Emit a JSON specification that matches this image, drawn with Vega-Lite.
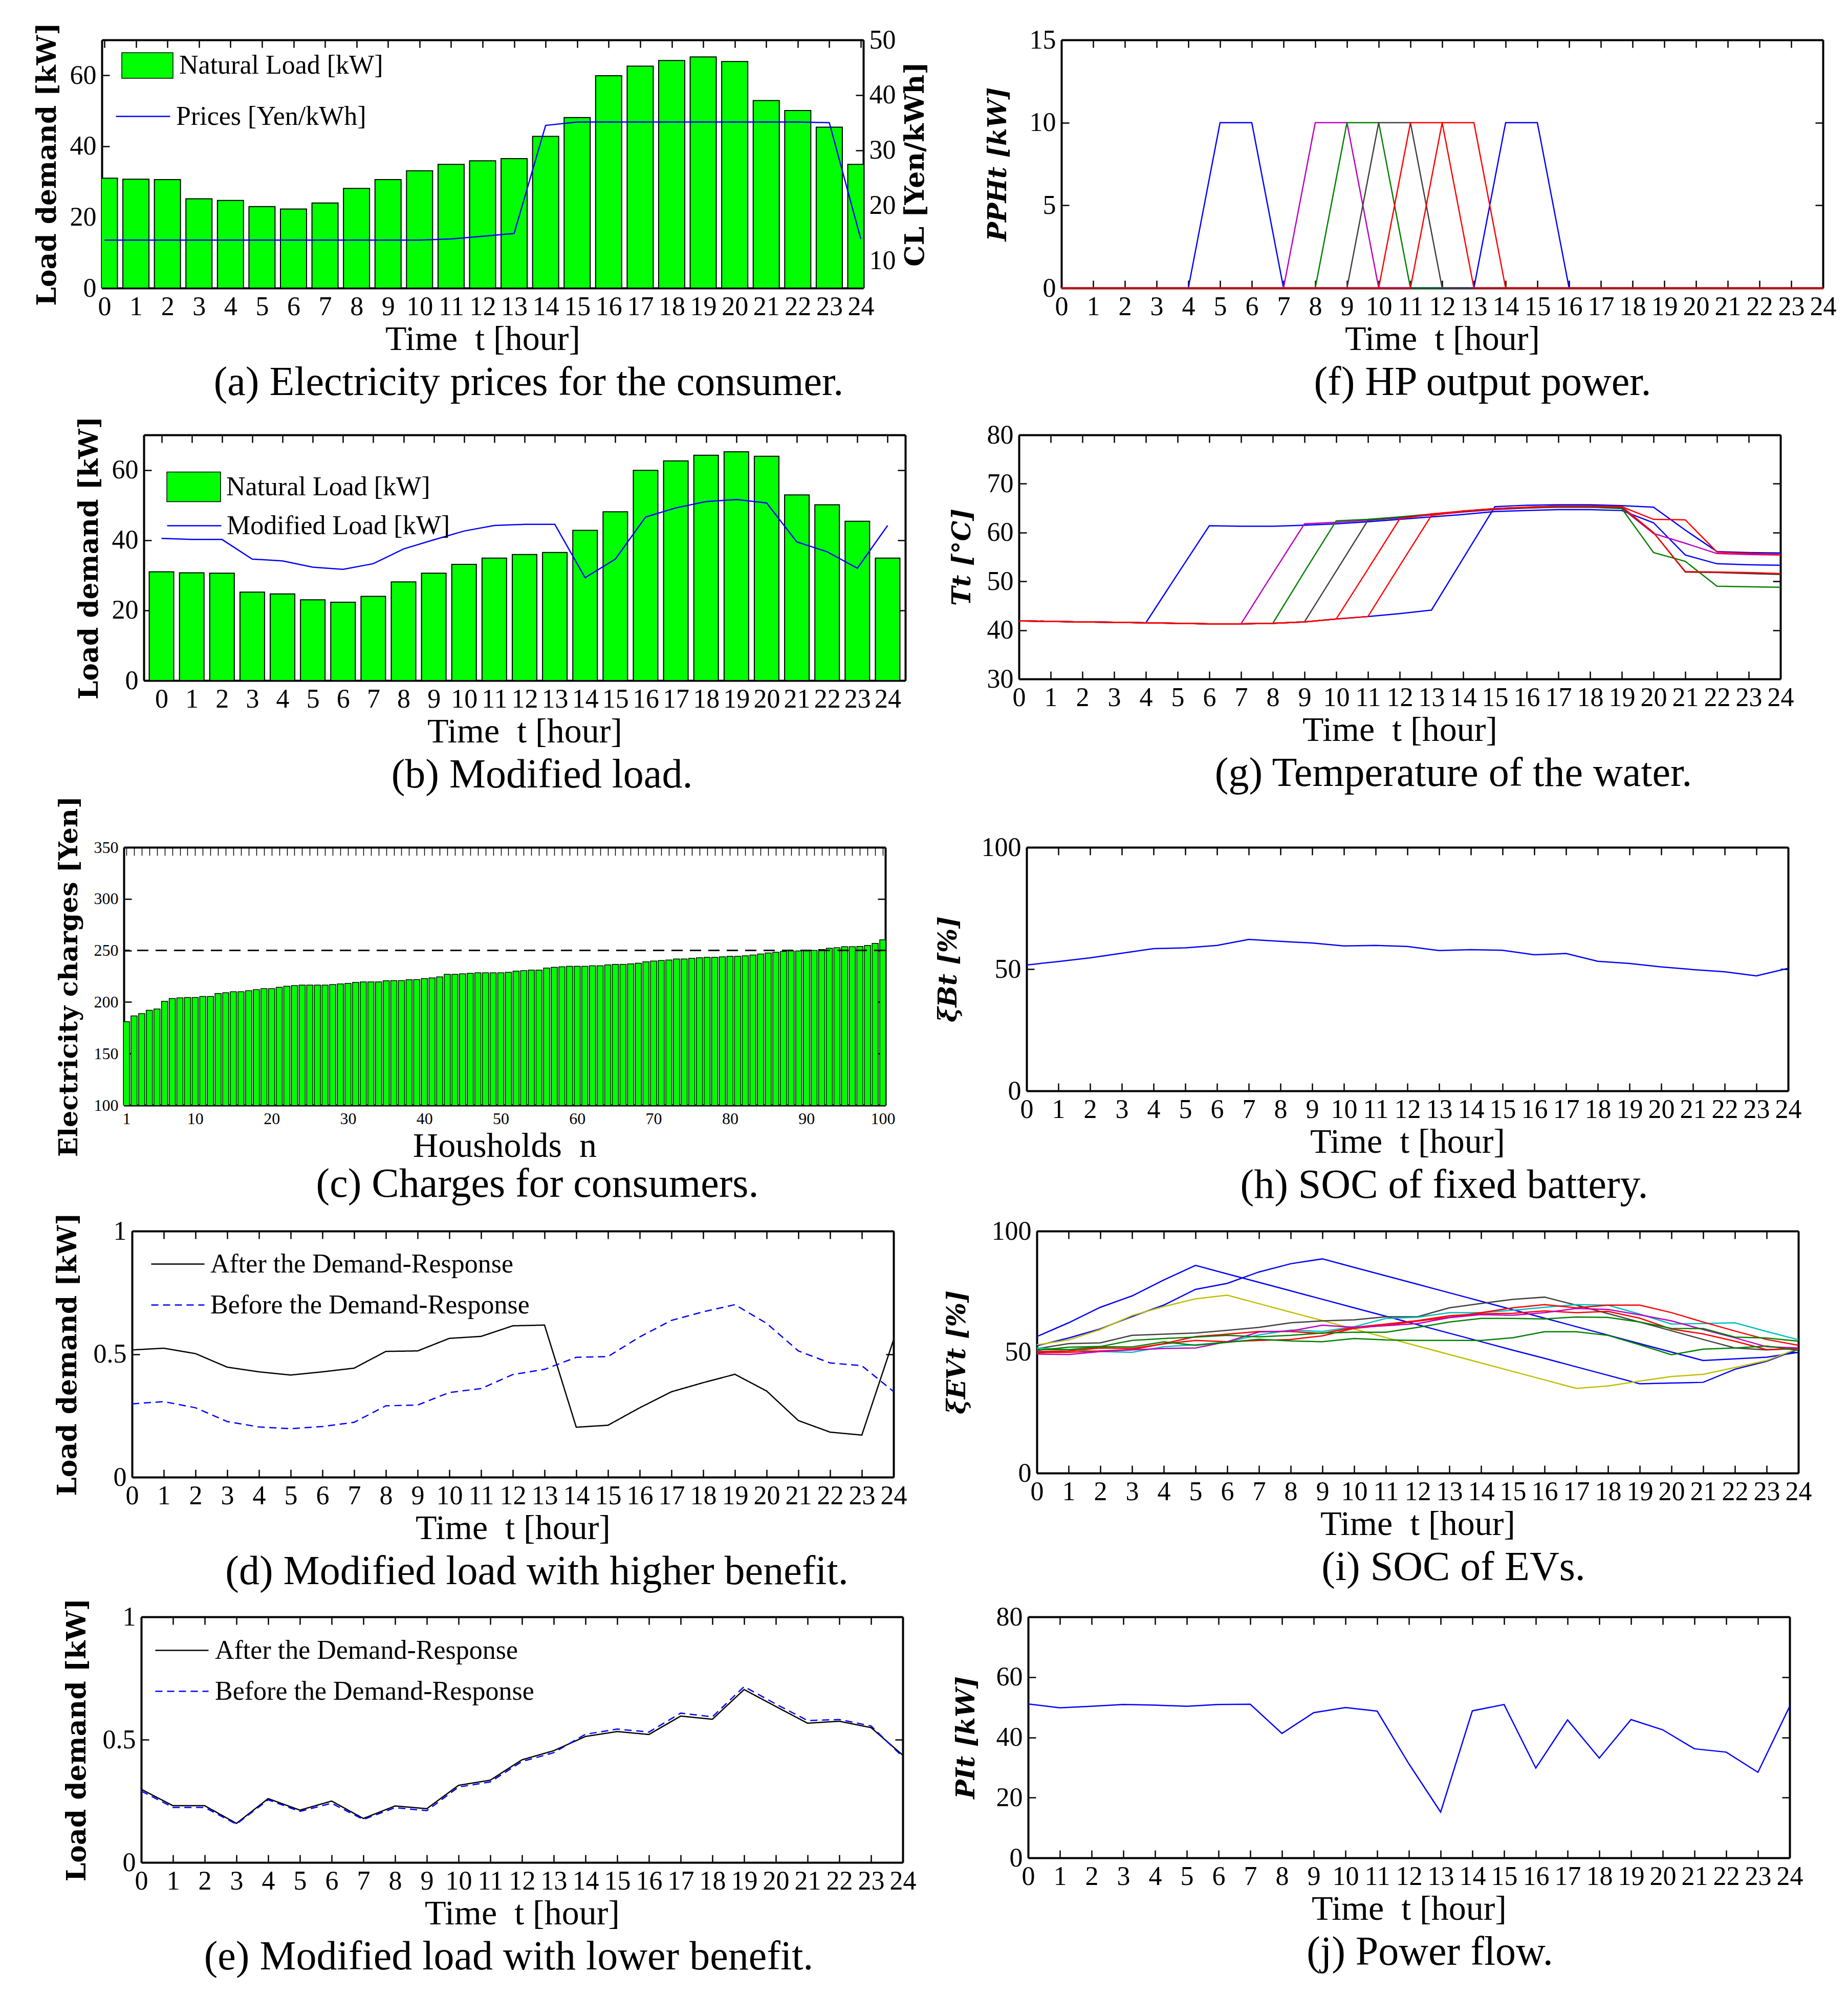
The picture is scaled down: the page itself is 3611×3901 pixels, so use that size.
{
"$schema":"https://vega.github.io/schema/vega-lite/v6.json",
"padding":0,
"background":"white",
"datasets":{
"load":[
{"t":0,"natural":31.0,"price":13.7,"modified":40.5},
{"t":1,"natural":30.7,"price":13.7,"modified":40.2},
{"t":2,"natural":30.6,"price":13.7,"modified":40.2},
{"t":3,"natural":25.2,"price":13.7,"modified":34.6},
{"t":4,"natural":24.7,"price":13.7,"modified":34.1},
{"t":5,"natural":23.0,"price":13.7,"modified":32.3},
{"t":6,"natural":22.3,"price":13.7,"modified":31.7},
{"t":7,"natural":24.0,"price":13.7,"modified":33.3},
{"t":8,"natural":28.1,"price":13.7,"modified":37.5},
{"t":9,"natural":30.6,"price":13.7,"modified":40.1},
{"t":10,"natural":33.1,"price":13.7,"modified":42.6},
{"t":11,"natural":34.9,"price":13.9,"modified":44.2},
{"t":12,"natural":35.9,"price":14.4,"modified":44.5},
{"t":13,"natural":36.5,"price":14.9,"modified":44.5},
{"t":14,"natural":42.8,"price":34.5,"modified":29.3},
{"t":15,"natural":48.1,"price":35.1,"modified":34.6},
{"t":16,"natural":59.9,"price":35.1,"modified":46.6},
{"t":17,"natural":62.6,"price":35.1,"modified":49.2},
{"t":18,"natural":64.2,"price":35.1,"modified":51.0},
{"t":19,"natural":65.2,"price":35.1,"modified":51.6},
{"t":20,"natural":63.9,"price":35.1,"modified":50.6},
{"t":21,"natural":52.9,"price":35.1,"modified":39.5},
{"t":22,"natural":50.1,"price":35.1,"modified":36.7},
{"t":23,"natural":45.4,"price":35.0,"modified":32.0},
{"t":24,"natural":34.9,"price":13.9,"modified":44.2}],
"hp":[
{"t":0,"s1":0,"s2":0,"s3":0,"s4":0,"s5":0,"s6":0,"s7":0},
{"t":1,"s1":0,"s2":0,"s3":0,"s4":0,"s5":0,"s6":0,"s7":0},
{"t":2,"s1":0,"s2":0,"s3":0,"s4":0,"s5":0,"s6":0,"s7":0},
{"t":3,"s1":0,"s2":0,"s3":0,"s4":0,"s5":0,"s6":0,"s7":0},
{"t":4,"s1":0,"s2":0,"s3":0,"s4":0,"s5":0,"s6":0,"s7":0},
{"t":5,"s1":10,"s2":0,"s3":0,"s4":0,"s5":0,"s6":0,"s7":0},
{"t":6,"s1":10,"s2":0,"s3":0,"s4":0,"s5":0,"s6":0,"s7":0},
{"t":7,"s1":0,"s2":0,"s3":0,"s4":0,"s5":0,"s6":0,"s7":0},
{"t":8,"s1":0,"s2":10,"s3":0,"s4":0,"s5":0,"s6":0,"s7":0},
{"t":9,"s1":0,"s2":10,"s3":10,"s4":0,"s5":0,"s6":0,"s7":0},
{"t":10,"s1":0,"s2":0,"s3":10,"s4":10,"s5":0,"s6":0,"s7":0},
{"t":11,"s1":0,"s2":0,"s3":0,"s4":10,"s5":10,"s6":0,"s7":0},
{"t":12,"s1":0,"s2":0,"s3":0,"s4":0,"s5":10,"s6":10,"s7":0},
{"t":13,"s1":0,"s2":0,"s3":0,"s4":0,"s5":0,"s6":10,"s7":0},
{"t":14,"s1":0,"s2":0,"s3":0,"s4":0,"s5":0,"s6":0,"s7":10},
{"t":15,"s1":0,"s2":0,"s3":0,"s4":0,"s5":0,"s6":0,"s7":10},
{"t":16,"s1":0,"s2":0,"s3":0,"s4":0,"s5":0,"s6":0,"s7":0},
{"t":17,"s1":0,"s2":0,"s3":0,"s4":0,"s5":0,"s6":0,"s7":0},
{"t":18,"s1":0,"s2":0,"s3":0,"s4":0,"s5":0,"s6":0,"s7":0},
{"t":19,"s1":0,"s2":0,"s3":0,"s4":0,"s5":0,"s6":0,"s7":0},
{"t":20,"s1":0,"s2":0,"s3":0,"s4":0,"s5":0,"s6":0,"s7":0},
{"t":21,"s1":0,"s2":0,"s3":0,"s4":0,"s5":0,"s6":0,"s7":0},
{"t":22,"s1":0,"s2":0,"s3":0,"s4":0,"s5":0,"s6":0,"s7":0},
{"t":23,"s1":0,"s2":0,"s3":0,"s4":0,"s5":0,"s6":0,"s7":0},
{"t":24,"s1":0,"s2":0,"s3":0,"s4":0,"s5":0,"s6":0,"s7":0}],
"temp":[
{"t":0,"s1":41.9,"s2":41.9,"s3":41.9,"s4":41.9,"s5":41.9,"s6":41.9,"s7":41.9},
{"t":1,"s1":41.8,"s2":41.8,"s3":41.8,"s4":41.8,"s5":41.8,"s6":41.8,"s7":41.8},
{"t":2,"s1":41.7,"s2":41.7,"s3":41.7,"s4":41.7,"s5":41.7,"s6":41.7,"s7":41.7},
{"t":3,"s1":41.6,"s2":41.6,"s3":41.6,"s4":41.6,"s5":41.6,"s6":41.6,"s7":41.6},
{"t":4,"s1":41.5,"s2":41.5,"s3":41.5,"s4":41.5,"s5":41.5,"s6":41.5,"s7":41.5},
{"t":5,"s1":51.5,"s2":41.4,"s3":41.4,"s4":41.4,"s5":41.4,"s6":41.4,"s7":41.4},
{"t":6,"s1":61.4,"s2":41.3,"s3":41.3,"s4":41.3,"s5":41.3,"s6":41.3,"s7":41.3},
{"t":7,"s1":61.3,"s2":41.3,"s3":41.3,"s4":41.3,"s5":41.3,"s6":41.3,"s7":41.3},
{"t":8,"s1":61.3,"s2":51.6,"s3":41.4,"s4":41.4,"s5":41.4,"s6":41.4,"s7":41.4},
{"t":9,"s1":61.5,"s2":61.8,"s3":52.0,"s4":41.7,"s5":41.7,"s6":41.7,"s7":41.7},
{"t":10,"s1":61.8,"s2":62.1,"s3":62.4,"s4":52.1,"s5":42.3,"s6":42.3,"s7":42.3},
{"t":11,"s1":62.2,"s2":62.5,"s3":62.7,"s4":62.5,"s5":52.5,"s6":42.8,"s7":42.8},
{"t":12,"s1":62.7,"s2":63.0,"s3":63.2,"s4":63.1,"s5":62.8,"s6":53.2,"s7":43.4},
{"t":13,"s1":63.2,"s2":63.6,"s3":63.8,"s4":63.7,"s5":63.8,"s6":63.5,"s7":44.1},
{"t":14,"s1":63.7,"s2":64.2,"s3":64.3,"s4":64.3,"s5":64.4,"s6":64.4,"s7":54.7},
{"t":15,"s1":64.3,"s2":64.7,"s3":64.8,"s4":64.8,"s5":64.9,"s6":64.9,"s7":65.3},
{"t":16,"s1":64.5,"s2":65.0,"s3":65.1,"s4":65.1,"s5":65.2,"s6":65.2,"s7":65.6},
{"t":17,"s1":64.7,"s2":65.2,"s3":65.2,"s4":65.3,"s5":65.4,"s6":65.4,"s7":65.7},
{"t":18,"s1":64.7,"s2":65.2,"s3":65.2,"s4":65.3,"s5":65.4,"s6":65.4,"s7":65.7},
{"t":19,"s1":64.5,"s2":65.0,"s3":64.9,"s4":65.1,"s5":65.3,"s6":65.3,"s7":65.5},
{"t":20,"s1":62.0,"s2":59.8,"s3":55.9,"s4":60.0,"s5":62.7,"s6":60.0,"s7":65.2},
{"t":21,"s1":55.4,"s2":57.8,"s3":54.1,"s4":51.9,"s5":62.6,"s6":52.0,"s7":60.5},
{"t":22,"s1":53.6,"s2":55.7,"s3":49.0,"s4":51.8,"s5":56.0,"s6":51.9,"s7":56.1},
{"t":23,"s1":53.4,"s2":55.5,"s3":48.9,"s4":51.6,"s5":55.7,"s6":51.8,"s7":55.9},
{"t":24,"s1":53.3,"s2":55.4,"s3":48.8,"s4":51.4,"s5":55.5,"s6":51.6,"s7":55.8}],
"bill":[
{"n":1,"charge":181},{"n":2,"charge":186.5},{"n":3,"charge":188.8},{"n":4,"charge":192},{"n":5,"charge":193.3},{"n":6,"charge":200.7},{"n":7,"charge":203.4},{"n":8,"charge":204},{"n":9,"charge":204.4},{"n":10,"charge":204.4},
{"n":11,"charge":205.4},{"n":12,"charge":205.4},{"n":13,"charge":208.2},{"n":14,"charge":209},{"n":15,"charge":210},{"n":16,"charge":210},{"n":17,"charge":211},{"n":18,"charge":212},{"n":19,"charge":213},{"n":20,"charge":213},
{"n":21,"charge":214.3},{"n":22,"charge":215.3},{"n":23,"charge":216},{"n":24,"charge":216.5},{"n":25,"charge":216.5},{"n":26,"charge":216.5},{"n":27,"charge":216.5},{"n":28,"charge":217},{"n":29,"charge":217.6},{"n":30,"charge":218},
{"n":31,"charge":219},{"n":32,"charge":219.6},{"n":33,"charge":219.6},{"n":34,"charge":219.6},{"n":35,"charge":220.6},{"n":36,"charge":220.8},{"n":37,"charge":220.8},{"n":38,"charge":221.6},{"n":39,"charge":221.8},{"n":40,"charge":222.8},
{"n":41,"charge":223.4},{"n":42,"charge":224.4},{"n":43,"charge":226.9},{"n":44,"charge":226.9},{"n":45,"charge":227.4},{"n":46,"charge":227.9},{"n":47,"charge":228.4},{"n":48,"charge":228.4},{"n":49,"charge":228.4},{"n":50,"charge":228.4},
{"n":51,"charge":228.9},{"n":52,"charge":229.9},{"n":53,"charge":230.4},{"n":54,"charge":230.9},{"n":55,"charge":230.9},{"n":56,"charge":232.9},{"n":57,"charge":233.7},{"n":58,"charge":234.2},{"n":59,"charge":234.7},{"n":60,"charge":234.7},
{"n":61,"charge":234.7},{"n":62,"charge":235.2},{"n":63,"charge":235.2},{"n":64,"charge":236},{"n":65,"charge":236.5},{"n":66,"charge":236.5},{"n":67,"charge":237},{"n":68,"charge":237.7},{"n":69,"charge":239},{"n":70,"charge":239.8},
{"n":71,"charge":240.3},{"n":72,"charge":240.8},{"n":73,"charge":241.8},{"n":74,"charge":241.8},{"n":75,"charge":242.3},{"n":76,"charge":243},{"n":77,"charge":243.3},{"n":78,"charge":243.3},{"n":79,"charge":243.8},{"n":80,"charge":244.3},
{"n":81,"charge":244.3},{"n":82,"charge":244.8},{"n":83,"charge":245.6},{"n":84,"charge":246.6},{"n":85,"charge":247.6},{"n":86,"charge":248.3},{"n":87,"charge":249.1},{"n":88,"charge":249.6},{"n":89,"charge":249.6},{"n":90,"charge":249.6},
{"n":91,"charge":250.1},{"n":92,"charge":250.9},{"n":93,"charge":252.1},{"n":94,"charge":252.6},{"n":95,"charge":253.6},{"n":96,"charge":253.6},{"n":97,"charge":253.9},{"n":98,"charge":254.9},{"n":99,"charge":256.9},{"n":100,"charge":260.4}],
"bat":[
{"t":0,"soc":51.7},{"t":1,"soc":53.1},{"t":2,"soc":54.6},{"t":3,"soc":56.5},{"t":4,"soc":58.4},{"t":5,"soc":58.7},{"t":6,"soc":59.7},{"t":7,"soc":62.2},{"t":8,"soc":61.4},{"t":9,"soc":60.7},{"t":10,"soc":59.5},{"t":11,"soc":59.7},{"t":12,"soc":59.3},{"t":13,"soc":57.6},{"t":14,"soc":58.0},{"t":15,"soc":57.7},{"t":16,"soc":55.9},{"t":17,"soc":56.4},{"t":18,"soc":53.2},{"t":19,"soc":52.3},{"t":20,"soc":50.9},{"t":21,"soc":49.8},{"t":22,"soc":48.9},{"t":23,"soc":47.2},{"t":24,"soc":50.3}],
"flow":[
{"t":0,"p":51.1},{"t":1,"p":49.8},{"t":2,"p":50.3},{"t":3,"p":50.9},{"t":4,"p":50.7},{"t":5,"p":50.3},{"t":6,"p":50.9},{"t":7,"p":51.0},{"t":8,"p":41.3},{"t":9,"p":48.2},{"t":10,"p":49.9},{"t":11,"p":48.7},{"t":12,"p":31.2},{"t":13,"p":15.2},{"t":14,"p":48.8},{"t":15,"p":50.9},{"t":16,"p":29.8},{"t":17,"p":45.8},{"t":18,"p":33.1},{"t":19,"p":45.9},{"t":20,"p":42.5},{"t":21,"p":36.2},{"t":22,"p":35.1},{"t":23,"p":28.4},{"t":24,"p":50.3}],
"drhigh":[
{"t":0,"after":0.517,"before":0.298},{"t":1,"after":0.524,"before":0.307},{"t":2,"after":0.502,"before":0.282},{"t":3,"after":0.447,"before":0.226},{"t":4,"after":0.428,"before":0.204},{"t":5,"after":0.415,"before":0.197},{"t":6,"after":0.428,"before":0.206},{"t":7,"after":0.443,"before":0.223},{"t":8,"after":0.511,"before":0.290},{"t":9,"after":0.513,"before":0.293},{"t":10,"after":0.564,"before":0.344},{"t":11,"after":0.572,"before":0.360},{"t":12,"after":0.615,"before":0.417},{"t":13,"after":0.618,"before":0.438},{"t":14,"after":0.203,"before":0.487},{"t":15,"after":0.211,"before":0.490},{"t":16,"after":0.282,"before":0.570},{"t":17,"after":0.347,"before":0.637},{"t":18,"after":0.384,"before":0.672},{"t":19,"after":0.418,"before":0.701},{"t":20,"after":0.350,"before":0.625},{"t":21,"after":0.230,"before":0.513},{"t":22,"after":0.183,"before":0.464},{"t":23,"after":0.171,"before":0.453},{"t":24,"after":0.558,"before":0.348}],
"drlow":[
{"t":0,"after":0.298,"before":0.291},{"t":1,"after":0.231,"before":0.224},{"t":2,"after":0.231,"before":0.224},{"t":3,"after":0.159,"before":0.156},{"t":4,"after":0.260,"before":0.255},{"t":5,"after":0.213,"before":0.208},{"t":6,"after":0.250,"before":0.241},{"t":7,"after":0.179,"before":0.175},{"t":8,"after":0.230,"before":0.223},{"t":9,"after":0.219,"before":0.211},{"t":10,"after":0.314,"before":0.307},{"t":11,"after":0.335,"before":0.328},{"t":12,"after":0.418,"before":0.411},{"t":13,"after":0.455,"before":0.447},{"t":14,"after":0.513,"before":0.522},{"t":15,"after":0.533,"before":0.543},{"t":16,"after":0.521,"before":0.531},{"t":17,"after":0.596,"before":0.608},{"t":18,"after":0.583,"before":0.593},{"t":19,"after":0.704,"before":0.716},{"t":20,"after":0.635,"before":0.645},{"t":21,"after":0.567,"before":0.578},{"t":22,"after":0.575,"before":0.582},{"t":23,"after":0.549,"before":0.556},{"t":24,"after":0.437,"before":0.430}],
"ev":[
{"t":0,"e1":56.4,"e2":52.6,"e3":53.0,"e4":51.4,"e5":51.7,"e6":50.2,"e7":49.8,"e8":49.2,"e9":50.7,"e10":51.0},
{"t":1,"e1":62.1,"e2":55.8,"e3":55.0,"e4":53.5,"e5":51.0,"e6":50.4,"e7":49.9,"e8":49.0,"e9":52.0,"e10":51.0},
{"t":2,"e1":68.5,"e2":59.6,"e3":59.3,"e4":53.8,"e5":50.2,"e6":51.7,"e7":50.5,"e8":50.2,"e9":52.3,"e10":52.2},
{"t":3,"e1":73.2,"e2":64.7,"e3":65.1,"e4":56.9,"e5":49.9,"e6":51.5,"e7":51.0,"e8":50.9,"e9":54.8,"e10":52.1},
{"t":4,"e1":79.8,"e2":69.4,"e3":68.8,"e4":57.4,"e5":52.2,"e6":53.4,"e7":53.5,"e8":51.5,"e9":55.6,"e10":54.2},
{"t":5,"e1":85.8,"e2":75.9,"e3":72.0,"e4":57.9,"e5":53.0,"e6":54.8,"e7":56.4,"e8":51.7,"e9":56.2,"e10":52.8},
{"t":6,"e1":82.3,"e2":78.4,"e3":73.5,"e4":59.0,"e5":54.2,"e6":54.3,"e7":57.4,"e8":54.3,"e9":56.9,"e10":54.0},
{"t":7,"e1":78.8,"e2":83.1,"e3":70.0,"e4":60.2,"e5":57.1,"e6":54.8,"e7":58.5,"e8":58.3,"e9":56.3,"e10":55.3},
{"t":8,"e1":75.3,"e2":86.5,"e3":66.5,"e4":62.1,"e5":59.1,"e6":55.2,"e7":58.5,"e8":58.7,"e9":56.9,"e10":54.6},
{"t":9,"e1":71.8,"e2":88.5,"e3":63.0,"e4":62.9,"e5":58.5,"e6":56.7,"e7":57.7,"e8":61.1,"e9":57.9,"e10":54.3},
{"t":10,"e1":68.3,"e2":85.0,"e3":59.5,"e4":63.3,"e5":60.5,"e6":59.8,"e7":60.2,"e8":60.2,"e9":58.2,"e10":55.6},
{"t":11,"e1":64.8,"e2":81.5,"e3":56.0,"e4":64.6,"e5":63.9,"e6":61.1,"e7":61.6,"e8":60.9,"e9":58.2,"e10":55.0},
{"t":12,"e1":61.3,"e2":78.0,"e3":52.5,"e4":64.6,"e5":64.4,"e6":62.8,"e7":63.0,"e8":61.8,"e9":60.2,"e10":54.8},
{"t":13,"e1":57.8,"e2":74.5,"e3":49.0,"e4":68.3,"e5":66.3,"e6":64.4,"e7":65.0,"e8":64.2,"e9":62.4,"e10":54.8},
{"t":14,"e1":54.3,"e2":71.0,"e3":45.5,"e4":70.1,"e5":66.3,"e6":66.3,"e7":65.8,"e8":65.5,"e9":63.9,"e10":54.8},
{"t":15,"e1":50.8,"e2":67.5,"e3":42.0,"e4":71.8,"e5":67.3,"e6":68.3,"e7":66.0,"e8":65.2,"e9":63.9,"e10":55.9},
{"t":16,"e1":47.4,"e2":64.0,"e3":38.5,"e4":72.7,"e5":68.5,"e6":69.6,"e7":67.0,"e8":66.3,"e9":63.7,"e10":58.4},
{"t":17,"e1":43.9,"e2":60.5,"e3":35.0,"e4":69.4,"e5":69.6,"e6":68.3,"e7":66.3,"e8":68.0,"e9":64.5,"e10":58.4},
{"t":18,"e1":40.4,"e2":57.0,"e3":36.0,"e4":65.9,"e5":69.4,"e6":69.4,"e7":66.8,"e8":67.6,"e9":64.3,"e10":56.9},
{"t":19,"e1":36.9,"e2":53.5,"e3":38.0,"e4":62.4,"e5":65.7,"e6":69.4,"e7":64.0,"e8":65.4,"e9":62.4,"e10":53.0},
{"t":20,"e1":37.2,"e2":50.0,"e3":39.9,"e4":58.8,"e5":61.6,"e6":66.3,"e7":59.5,"e8":62.9,"e9":59.8,"e10":48.9},
{"t":21,"e1":37.5,"e2":46.5,"e3":40.8,"e4":55.2,"e5":61.8,"e6":62.4,"e7":57.5,"e8":59.3,"e9":59.7,"e10":51.2},
{"t":22,"e1":42.9,"e2":47.2,"e3":43.6,"e4":51.7,"e5":62.1,"e6":58.7,"e7":54.5,"e8":55.9,"e9":56.2,"e10":51.7},
{"t":23,"e1":46.2,"e2":47.9,"e3":46.5,"e4":50.9,"e5":58.5,"e6":55.2,"e7":51.0,"e8":52.2,"e9":55.8,"e10":52.5},
{"t":24,"e1":51.2,"e2":49.9,"e3":51.5,"e4":51.5,"e5":55.1,"e6":52.8,"e7":51.5,"e8":51.7,"e9":54.5,"e10":50.7}]
},
"spacing":0,
"bounds":"full",
"resolve":{"scale":{"color":"independent","fill":"independent","stroke":"independent","strokeDash":"independent"}},
"vconcat":[
{"width":1,"height":43,"data":{"values":[{}]},"mark":{"type":"point","opacity":0},"encoding":{}},
{"spacing":0,"bounds":"flush",
 "resolve":{"scale":{"color":"independent","fill":"independent","stroke":"independent","strokeDash":"independent"}},
 "hconcat":[
{"width":196,"height":735,"data":{"values":[{}]},"mark":{"type":"point","opacity":0},"encoding":{}},
{"width":1488,"height":485,
 "title":{"text":"(a) Electricity prices for the consumer.","dx":90},
 "data":{"name":"load"},
 "layer":[
  {"mark":{"type":"bar","width":51,"stroke":"black","strokeWidth":2,"clip":true},
   "encoding":{
    "x":{"field":"t","type":"quantitative","scale":{"domain":[0,24],"nice":false,"zero":false},"axis":{"orient":"bottom","values":[0,1,2,3,4,5,6,7,8,9,10,11,12,13,14,15,16,17,18,19,20,21,22,23,24],"format":"d","title":"Time\u00a0 t [hour]"}},
    "y":{"field":"natural","type":"quantitative","scale":{"domain":[0,70],"nice":false},"axis":{"orient":"left","values":[0,20,40,60],"format":"d","title":"Load demand [kW]","titlePadding":17}},
    "fill":{"datum":"Natural Load [kW]","type":"nominal","scale":{"range":["#00ff00"]},"legend":{"orient":"none","legendX":38,"legendY":-1,"title":null,"symbolType":"M-1,-0.5H1V0.5H-1Z","symbolSize":10000,"labelOffset":11,"encode":{"symbols":{"update":{"stroke":{"value":"black"},"strokeWidth":{"value":2.5},"fill":{"value":"#00ff00"},"opacity":{"value":1}}}}}}
   }},
  {"mark":{"type":"line","strokeWidth":2.5},
   "encoding":{
    "x":{"field":"t","type":"quantitative","axis":null},
    "y":{"field":"price","type":"quantitative","scale":{"domain":[5,50],"nice":false,"zero":false},"axis":{"orient":"right","values":[10,20,30,40,50],"format":"d","title":"CL [Yen/kWh]","titleAngle":-90,"titleBaseline":"top","titlePadding":13}},
    "stroke":{"datum":"Prices [Yen/kWh]","type":"nominal","scale":{"range":["#0000ff"]},"legend":{"orient":"none","legendX":26,"legendY":95,"title":null,"symbolType":"stroke","symbolSize":11236,"symbolStrokeWidth":2.5,"labelOffset":10}}
   }},
  {"mark":{"type":"point","opacity":0},
   "encoding":{
    "x":{"field":"t","type":"quantitative","axis":{"orient":"top","values":[0,1,2,3,4,5,6,7,8,9,10,11,12,13,14,15,16,17,18,19,20,21,22,23,24],"labels":false,"title":null}}
   }}
 ],
 "resolve":{"scale":{"y":"independent"},"axis":{"x":"independent","y":"independent"}}
},
{"width":387,"height":1,"data":{"values":[{}]},"mark":{"type":"point","opacity":0},"encoding":{}},
{"width":1488,"height":485,
 "title":{"text":"(f) HP output power.","dx":79},
 "data":{"name":"hp"},
 "transform":[{"fold":["s1","s7","s2","s3","s4","s5","s6"],"as":["series","value"]}],
 "layer":[
  {"mark":{"type":"line","strokeWidth":2.5},
   "encoding":{
    "x":{"field":"t","type":"quantitative","scale":{"domain":[0,24],"nice":false,"zero":false},"axis":{"orient":"bottom","values":[0,1,2,3,4,5,6,7,8,9,10,11,12,13,14,15,16,17,18,19,20,21,22,23,24],"format":"d","title":"Time\u00a0 t [hour]"}},
    "y":{"field":"value","type":"quantitative","scale":{"domain":[0,15],"nice":false},"axis":{"orient":"left","values":[0,5,10,15],"format":"d","title":"PPHt [kW]","titleFontStyle":"italic","titleFontSize":50,"titlePadding":36}},
    "color":{"field":"series","type":"nominal","scale":{"domain":["s1","s7","s2","s3","s4","s5","s6"],"range":["#0000ff","#0000ff","#bf00bf","#008000","#404040","#ff0000","#ff0000"]},"legend":null}
   }},
  {"mark":{"type":"point","opacity":0},
   "encoding":{
    "x":{"field":"t","type":"quantitative","axis":{"orient":"top","values":[0,1,2,3,4,5,6,7,8,9,10,11,12,13,14,15,16,17,18,19,20,21,22,23,24],"labels":false,"title":null}},
    "y":{"field":"value","type":"quantitative","axis":{"orient":"right","values":[0,5,10,15],"labels":false,"title":null}}
   }}
 ],
 "resolve":{"axis":{"x":"independent","y":"independent"}}
}
]},
{"spacing":0,"bounds":"flush",
 "resolve":{"scale":{"color":"independent","fill":"independent","stroke":"independent","strokeDash":"independent"}},
 "hconcat":[
{"width":278,"height":705,"data":{"values":[{}]},"mark":{"type":"point","opacity":0},"encoding":{}},
{"width":1488,"height":480,
 "title":{"text":"(b) Modified load.","dx":34},
 "data":{"name":"load"},
 "layer":[
  {"mark":{"type":"bar","width":48,"stroke":"black","strokeWidth":2,"clip":true},
   "encoding":{
    "x":{"field":"t","type":"quantitative","scale":{"domain":[-0.5,24.5],"nice":false,"zero":false},"axis":{"orient":"bottom","values":[0,1,2,3,4,5,6,7,8,9,10,11,12,13,14,15,16,17,18,19,20,21,22,23,24],"format":"d","title":"Time\u00a0 t [hour]"}},
    "y":{"field":"natural","type":"quantitative","scale":{"domain":[0,70],"nice":false},"axis":{"orient":"left","values":[0,20,40,60],"format":"d","title":"Load demand [kW]","titlePadding":17}},
    "fill":{"datum":"Natural Load [kW]","type":"nominal","scale":{"range":["#00ff00"]},"legend":{"orient":"none","legendX":44,"legendY":48,"title":null,"symbolType":"M-1,-0.552H1V0.552H-1Z","symbolSize":11025,"labelOffset":10,"encode":{"symbols":{"update":{"stroke":{"value":"black"},"strokeWidth":{"value":2.5},"fill":{"value":"#00ff00"},"opacity":{"value":1}}}}}}
   }},
  {"mark":{"type":"line","strokeWidth":2.5},
   "encoding":{
    "x":{"field":"t","type":"quantitative","axis":null},
    "y":{"field":"modified","type":"quantitative","axis":null},
    "stroke":{"datum":"Modified Load [kW]","type":"nominal","scale":{"range":["#0000ff"]},"legend":{"orient":"none","legendX":44,"legendY":123,"title":null,"symbolType":"stroke","symbolSize":11236,"symbolStrokeWidth":2.5,"labelOffset":9}}
   }},
  {"mark":{"type":"point","opacity":0},
   "encoding":{
    "x":{"field":"t","type":"quantitative","axis":{"orient":"top","values":[0,1,2,3,4,5,6,7,8,9,10,11,12,13,14,15,16,17,18,19,20,21,22,23,24],"labels":false,"title":null}},
    "y":{"field":"natural","type":"quantitative","axis":{"orient":"right","values":[0,20,40,60],"labels":false,"title":null}}
   }}
 ],
 "resolve":{"axis":{"x":"independent","y":"independent"}}
},
{"width":222,"height":1,"data":{"values":[{}]},"mark":{"type":"point","opacity":0},"encoding":{}},
{"width":1488,"height":477,
 "title":{"text":"(g) Temperature of the water.","dx":105},
 "data":{"name":"temp"},
 "transform":[{"fold":["s1","s7","s2","s3","s4","s5","s6"],"as":["series","value"]}],
 "layer":[
  {"mark":{"type":"line","strokeWidth":2.5},
   "encoding":{
    "x":{"field":"t","type":"quantitative","scale":{"domain":[0,24],"nice":false,"zero":false},"axis":{"orient":"bottom","values":[0,1,2,3,4,5,6,7,8,9,10,11,12,13,14,15,16,17,18,19,20,21,22,23,24],"format":"d","title":"Time\u00a0 t [hour]"}},
    "y":{"field":"value","type":"quantitative","scale":{"domain":[30,80],"nice":false,"zero":false},"axis":{"orient":"left","values":[30,40,50,60,70,80],"format":"d","title":"Tt [°C]","titleFontStyle":"italic","titleFontSize":50,"titlePadding":23}},
    "color":{"field":"series","type":"nominal","scale":{"domain":["s1","s7","s2","s3","s4","s5","s6"],"range":["#0000ff","#0000ff","#bf00bf","#008000","#404040","#ff0000","#ff0000"]},"legend":null}
   }},
  {"mark":{"type":"point","opacity":0},
   "encoding":{
    "x":{"field":"t","type":"quantitative","axis":{"orient":"top","values":[0,1,2,3,4,5,6,7,8,9,10,11,12,13,14,15,16,17,18,19,20,21,22,23,24],"labels":false,"title":null}},
    "y":{"field":"value","type":"quantitative","axis":{"orient":"right","values":[30,40,50,60,70,80],"labels":false,"title":null}}
   }}
 ],
 "resolve":{"axis":{"x":"independent","y":"independent"}}
}
]},
{"spacing":0,"bounds":"flush",
 "resolve":{"scale":{"color":"independent","fill":"independent","stroke":"independent","strokeDash":"independent"}},
 "hconcat":[
{"width":239,"height":713,"data":{"values":[{}]},"mark":{"type":"point","opacity":0},"encoding":{}},
{"width":1488,"height":504,
 "title":{"text":"(c) Charges for consumers.","dx":64,"offset":2},
 "data":{"name":"bill"},
 "layer":[
  {"mark":{"type":"bar","width":12,"stroke":"black","strokeWidth":1.5,"fill":"#00ff00","clip":true},
   "encoding":{
    "x":{"field":"n","type":"quantitative","scale":{"domain":[1,100],"nice":false,"zero":false},"axis":{"orient":"bottom","values":[1,10,20,30,40,50,60,70,80,90,100],"format":"d","labelFontSize":32,"title":"Housholds\u00a0 n"}},
    "y":{"field":"charge","type":"quantitative","scale":{"domain":[100,350],"nice":false,"zero":false},"axis":{"orient":"left","values":[100,150,200,250,300,350],"format":"d","labelFontSize":32,"title":"Electricity charges [Yen]","titleFontSize":51,"titlePadding":22}}
   }},
  {"mark":{"type":"rule","color":"black","strokeWidth":2.5,"strokeDash":[22,14]},
   "encoding":{"y":{"datum":250,"type":"quantitative","axis":null}}},
  {"mark":{"type":"point","opacity":0},
   "encoding":{
    "x":{"field":"n","type":"quantitative","axis":{"orient":"top","values":[1,2,3,4,5,6,7,8,9,10,11,12,13,14,15,16,17,18,19,20,21,22,23,24,25,26,27,28,29,30,31,32,33,34,35,36,37,38,39,40,41,42,43,44,45,46,47,48,49,50,51,52,53,54,55,56,57,58,59,60,61,62,63,64,65,66,67,68,69,70,71,72,73,74,75,76,77,78,79,80,81,82,83,84,85,86,87,88,89,90,91,92,93,94,95,96,97,98,99,100],"labels":false,"title":null,"tickWidth":1.5,"tickSize":-16}},
    "y":{"field":"charge","type":"quantitative","axis":{"orient":"right","values":[100,150,200,250,300,350],"labels":false,"title":null}}
   }}
 ],
 "resolve":{"axis":{"x":"independent","y":"independent"}}
},
{"width":276,"height":1,"data":{"values":[{}]},"mark":{"type":"point","opacity":0},"encoding":{}},
{"width":1488,"height":476,
 "title":{"text":"(h) SOC of fixed battery.","dx":72},
 "data":{"name":"bat"},
 "layer":[
  {"mark":{"type":"line","strokeWidth":2.5,"color":"#0000ff"},
   "encoding":{
    "x":{"field":"t","type":"quantitative","scale":{"domain":[0,24],"nice":false,"zero":false},"axis":{"orient":"bottom","values":[0,1,2,3,4,5,6,7,8,9,10,11,12,13,14,15,16,17,18,19,20,21,22,23,24],"format":"d","title":"Time\u00a0 t [hour]"}},
    "y":{"field":"soc","type":"quantitative","scale":{"domain":[0,100],"nice":false},"axis":{"orient":"left","values":[0,50,100],"format":"d","title":"ξBt [%]","titleFontStyle":"italic","titleFontSize":50,"titlePadding":39}}
   }},
  {"mark":{"type":"point","opacity":0},
   "encoding":{
    "x":{"field":"t","type":"quantitative","axis":{"orient":"top","values":[0,1,2,3,4,5,6,7,8,9,10,11,12,13,14,15,16,17,18,19,20,21,22,23,24],"labels":false,"title":null}},
    "y":{"field":"soc","type":"quantitative","axis":{"orient":"right","values":[0,50,100],"labels":false,"title":null}}
   }}
 ],
 "resolve":{"axis":{"x":"independent","y":"independent"}}
}
]},
{"spacing":0,"bounds":"flush",
 "resolve":{"scale":{"color":"independent","fill":"independent","stroke":"independent","strokeDash":"independent"}},
 "hconcat":[
{"width":255,"height":717,"data":{"values":[{}]},"mark":{"type":"point","opacity":0},"encoding":{}},
{"width":1488,"height":481,
 "title":{"text":"(d) Modified load with higher benefit.","dx":47},
 "data":{"name":"drhigh"},
 "transform":[{"fold":["after","before"],"as":["series","value"]}],
 "layer":[
  {"mark":{"type":"line","strokeWidth":2.5},
   "encoding":{
    "x":{"field":"t","type":"quantitative","scale":{"domain":[0,24],"nice":false,"zero":false},"axis":{"orient":"bottom","values":[0,1,2,3,4,5,6,7,8,9,10,11,12,13,14,15,16,17,18,19,20,21,22,23,24],"format":"d","title":"Time\u00a0 t [hour]"}},
    "y":{"field":"value","type":"quantitative","scale":{"domain":[0,1],"nice":false},"axis":{"orient":"left","values":[0,0.5,1],"format":"~g","title":"Load demand [kW]","titlePadding":23}},
    "stroke":{"field":"series","type":"nominal","scale":{"domain":["after","before"],"range":["black","#0000ff"]},"legend":{"orient":"none","legendX":36,"legendY":11,"title":null,"symbolType":"stroke","symbolSize":10816,"symbolStrokeWidth":2.5,"rowPadding":-27,"labelOffset":10,"labelExpr":"datum.label == 'after' ? 'After the Demand-Response' : 'Before the Demand-Response'"}},
    "strokeDash":{"field":"series","type":"nominal","scale":{"domain":["after","before"],"range":[[1,0],[14,9]]},"legend":{"orient":"none","legendX":36,"legendY":11,"title":null,"symbolType":"stroke","symbolSize":10816,"symbolStrokeWidth":2.5,"rowPadding":-27,"labelOffset":10,"labelExpr":"datum.label == 'after' ? 'After the Demand-Response' : 'Before the Demand-Response'"}}
   }},
  {"mark":{"type":"point","opacity":0},
   "encoding":{
    "x":{"field":"t","type":"quantitative","axis":{"orient":"top","values":[0,1,2,3,4,5,6,7,8,9,10,11,12,13,14,15,16,17,18,19,20,21,22,23,24],"labels":false,"title":null}},
    "y":{"field":"value","type":"quantitative","axis":{"orient":"right","values":[0,0.5,1],"labels":false,"title":null}}
   }}
 ],
 "resolve":{"axis":{"x":"independent","y":"independent"}}
},
{"width":280,"height":1,"data":{"values":[{}]},"mark":{"type":"point","opacity":0},"encoding":{}},
{"width":1488,"height":473,
 "title":{"text":"(i) SOC of EVs.","dx":70},
 "data":{"name":"ev"},
 "transform":[{"fold":["e1","e2","e3","e4","e5","e6","e7","e8","e9","e10"],"as":["series","value"]}],
 "layer":[
  {"mark":{"type":"line","strokeWidth":2.5},
   "encoding":{
    "x":{"field":"t","type":"quantitative","scale":{"domain":[0,24],"nice":false,"zero":false},"axis":{"orient":"bottom","values":[0,1,2,3,4,5,6,7,8,9,10,11,12,13,14,15,16,17,18,19,20,21,22,23,24],"format":"d","title":"Time\u00a0 t [hour]"}},
    "y":{"field":"value","type":"quantitative","scale":{"domain":[0,100],"nice":false},"axis":{"orient":"left","values":[0,50,100],"format":"d","title":"ξEVt [%]","titleFontStyle":"italic","titleFontSize":50,"titlePadding":42}},
    "color":{"field":"series","type":"nominal","scale":{"domain":["e1","e2","e3","e4","e5","e6","e7","e8","e9","e10"],"range":["#0000ff","#0000ff","#bfbf00","#404040","#00bfbf","#ff0000","#ff0000","#bf00bf","#008000","#008000"]},"legend":null}
   }},
  {"mark":{"type":"point","opacity":0},
   "encoding":{
    "x":{"field":"t","type":"quantitative","axis":{"orient":"top","values":[0,1,2,3,4,5,6,7,8,9,10,11,12,13,14,15,16,17,18,19,20,21,22,23,24],"labels":false,"title":null}},
    "y":{"field":"value","type":"quantitative","axis":{"orient":"right","values":[0,50,100],"labels":false,"title":null}}
   }}
 ],
 "resolve":{"axis":{"x":"independent","y":"independent"}}
}
]},
{"spacing":0,"bounds":"flush",
 "resolve":{"scale":{"color":"independent","fill":"independent","stroke":"independent","strokeDash":"independent"}},
 "hconcat":[
{"width":273,"height":1,"data":{"values":[{}]},"mark":{"type":"point","opacity":0},"encoding":{}},
{"width":1488,"height":480,
 "title":{"text":"(e) Modified load with lower benefit.","dx":-26},
 "data":{"name":"drlow"},
 "transform":[{"fold":["after","before"],"as":["series","value"]}],
 "layer":[
  {"mark":{"type":"line","strokeWidth":2.5},
   "encoding":{
    "x":{"field":"t","type":"quantitative","scale":{"domain":[0,24],"nice":false,"zero":false},"axis":{"orient":"bottom","values":[0,1,2,3,4,5,6,7,8,9,10,11,12,13,14,15,16,17,18,19,20,21,22,23,24],"format":"d","title":"Time\u00a0 t [hour]"}},
    "y":{"field":"value","type":"quantitative","scale":{"domain":[0,1],"nice":false},"axis":{"orient":"left","values":[0,0.5,1],"format":"~g","title":"Load demand [kW]","titlePadding":23}},
    "stroke":{"field":"series","type":"nominal","scale":{"domain":["after","before"],"range":["black","#0000ff"]},"legend":{"orient":"none","legendX":26,"legendY":12,"title":null,"symbolType":"stroke","symbolSize":10816,"symbolStrokeWidth":2.5,"rowPadding":-27,"labelOffset":11,"labelExpr":"datum.label == 'after' ? 'After the Demand-Response' : 'Before the Demand-Response'"}},
    "strokeDash":{"field":"series","type":"nominal","scale":{"domain":["after","before"],"range":[[1,0],[14,9]]},"legend":{"orient":"none","legendX":26,"legendY":12,"title":null,"symbolType":"stroke","symbolSize":10816,"symbolStrokeWidth":2.5,"rowPadding":-27,"labelOffset":11,"labelExpr":"datum.label == 'after' ? 'After the Demand-Response' : 'Before the Demand-Response'"}}
   }},
  {"mark":{"type":"point","opacity":0},
   "encoding":{
    "x":{"field":"t","type":"quantitative","axis":{"orient":"top","values":[0,1,2,3,4,5,6,7,8,9,10,11,12,13,14,15,16,17,18,19,20,21,22,23,24],"labels":false,"title":null}},
    "y":{"field":"value","type":"quantitative","axis":{"orient":"right","values":[0,0.5,1],"labels":false,"title":null}}
   }}
 ],
 "resolve":{"axis":{"x":"independent","y":"independent"}}
},
{"width":245,"height":1,"data":{"values":[{}]},"mark":{"type":"point","opacity":0},"encoding":{}},
{"width":1488,"height":471,
 "title":{"text":"(j) Power flow.","dx":41},
 "data":{"name":"flow"},
 "layer":[
  {"mark":{"type":"line","strokeWidth":2.5,"color":"#0000ff"},
   "encoding":{
    "x":{"field":"t","type":"quantitative","scale":{"domain":[0,24],"nice":false,"zero":false},"axis":{"orient":"bottom","values":[0,1,2,3,4,5,6,7,8,9,10,11,12,13,14,15,16,17,18,19,20,21,22,23,24],"format":"d","title":"Time\u00a0 t [hour]"}},
    "y":{"field":"p","type":"quantitative","scale":{"domain":[0,80],"nice":false},"axis":{"orient":"left","values":[0,20,40,60,80],"format":"d","title":"PIt [kW]","titleFontStyle":"italic","titleFontSize":50,"titlePadding":33}}
   }},
  {"mark":{"type":"point","opacity":0},
   "encoding":{
    "x":{"field":"t","type":"quantitative","axis":{"orient":"top","values":[0,1,2,3,4,5,6,7,8,9,10,11,12,13,14,15,16,17,18,19,20,21,22,23,24],"labels":false,"title":null}},
    "y":{"field":"p","type":"quantitative","axis":{"orient":"right","values":[0,20,40,60,80],"labels":false,"title":null}}
   }}
 ],
 "resolve":{"axis":{"x":"independent","y":"independent"}}
}
]}
],
"config":{
 "view":{"stroke":null},
 "axis":{"grid":false,"domainColor":"black","domainWidth":4,"tickColor":"black","tickWidth":2.5,"tickSize":-15,"labelFont":"Liberation Serif","labelFontSize":52,"labelColor":"black","labelPadding":26,"labelOverlap":false,"labelFlush":false,"labelBound":false,"titleFont":"Liberation Serif","titleFontSize":68,"titleFontWeight":"normal","titleColor":"black","titlePadding":0},
 "axisX":{"titlePadding":4},
 "axisY":{"titleFont":"DejaVu Serif","titleFontWeight":"bold","titleFontSize":52},
 "legend":{"labelFont":"Liberation Serif","labelFontSize":52,"labelColor":"black","padding":0,"labelLimit":2000},
 "title":{"font":"Liberation Serif","fontSize":80,"fontWeight":"normal","color":"black","orient":"bottom","frame":"group","anchor":"middle","offset":12}
}
}
